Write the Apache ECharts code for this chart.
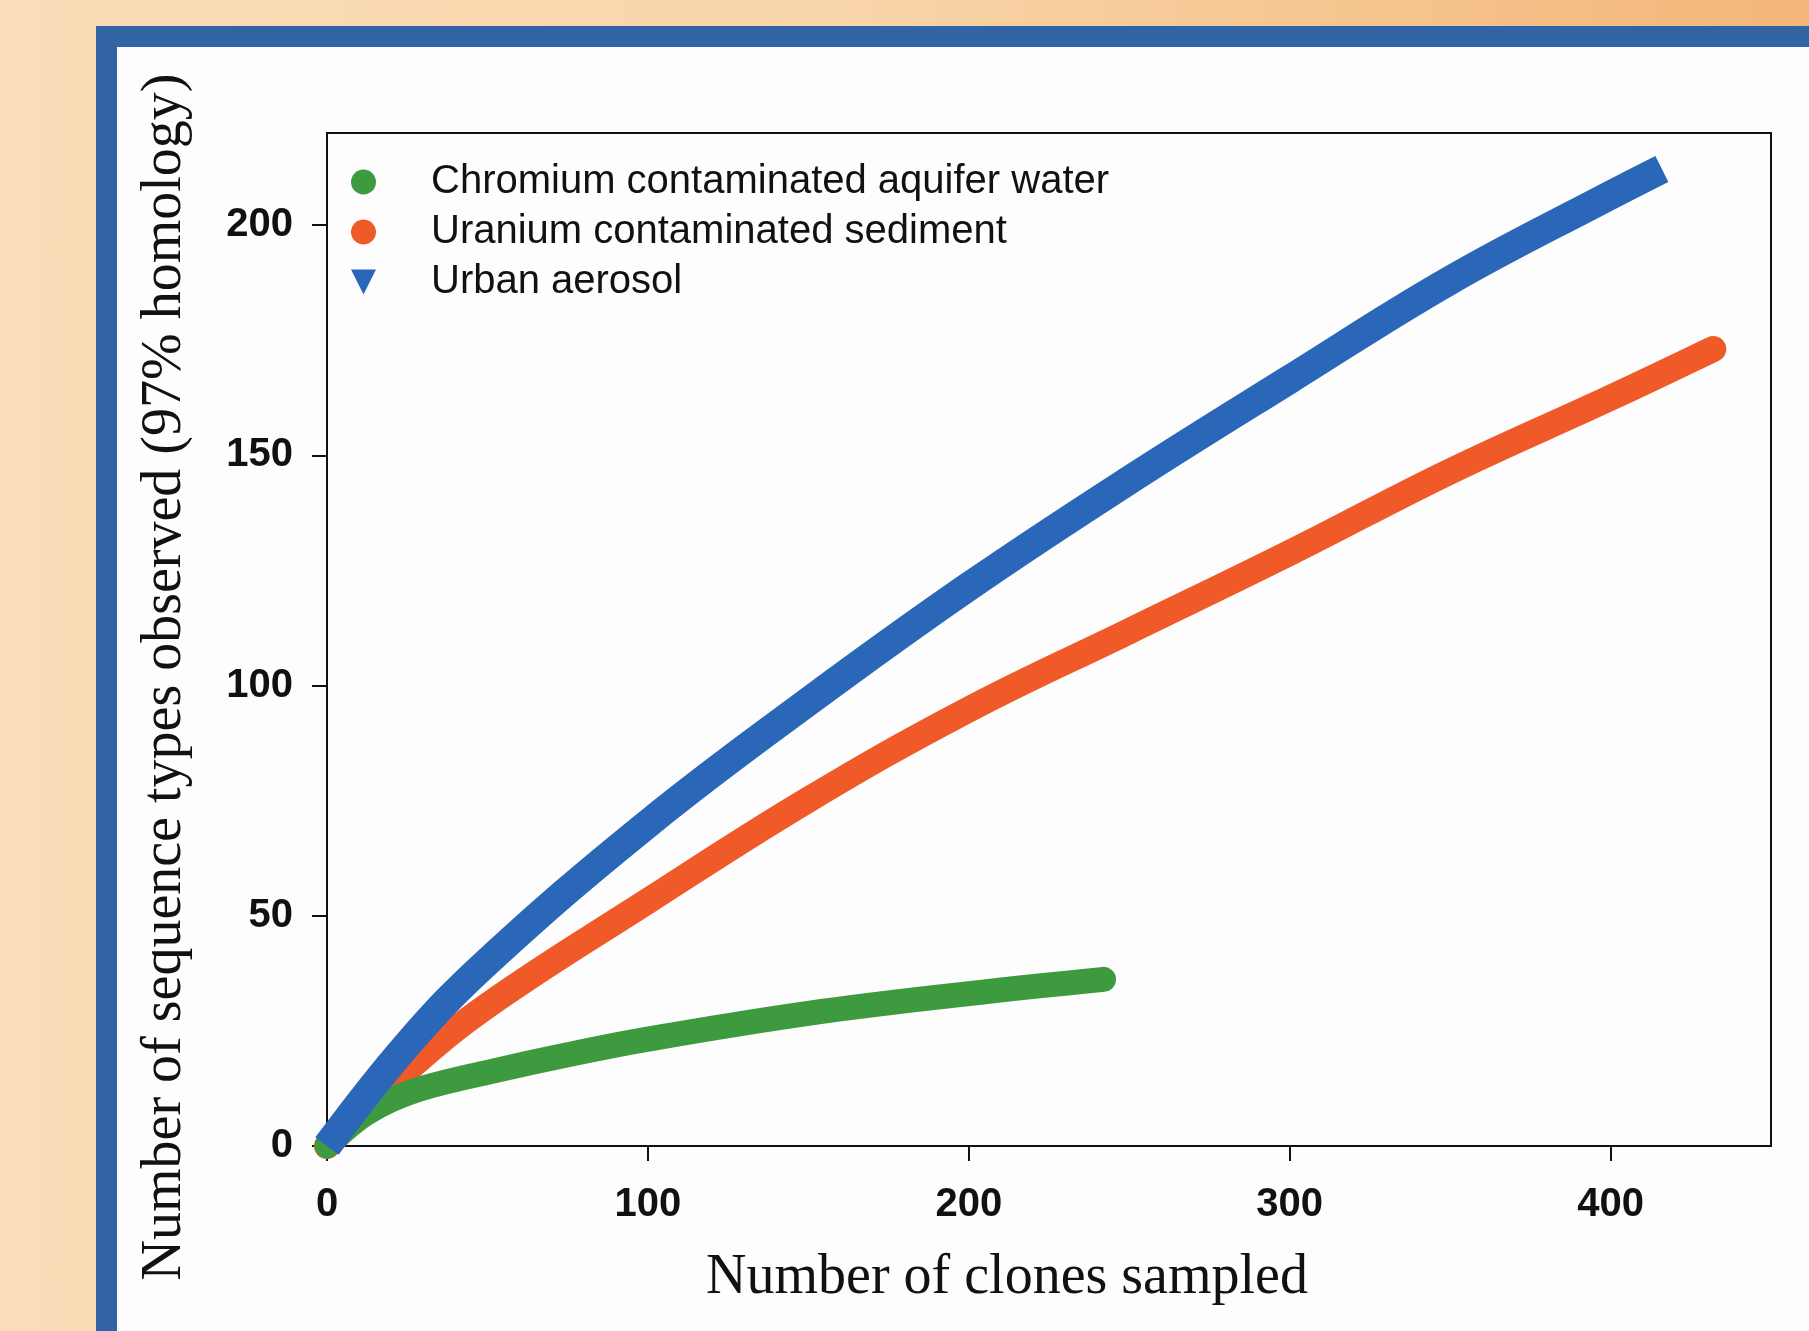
<!DOCTYPE html>
<html>
<head>
<meta charset="utf-8">
<script src="https://cdn.jsdelivr.net/npm/echarts@6/dist/echarts.min.js"></script>
<style>
  html, body { margin: 0; padding: 0; width: 1809px; height: 1331px; overflow: hidden; }
  body { background: linear-gradient(90deg, #fadcb8 0%, #f9d6ab 45%, #f5c58f 75%, #f3b678 100%); position: relative; }
  #frame { position: absolute; left: 96px; top: 26px; width: 1800px; height: 1400px;
           border-left: 21px solid #3264a5; border-top: 21px solid #3264a5; background: #fdfdfd; }
  #chart { position: absolute; left: 0; top: 0; width: 1809px; height: 1331px; }
</style>
</head>
<body>
<div id="frame"></div>
<div id="chart"></div>
<script>
// ---- data ----
const seriesNames = ['Chromium contaminated aquifer water', 'Uranium contaminated sediment', 'Urban aerosol'];

const clonesGreen = [0, 6, 12, 20, 30, 50, 75, 100, 150, 200, 242];
const typesGreen  = [0, 3.8, 7, 10, 12.6, 16, 19.8, 23.2, 28.8, 33.1, 36.2];

const clonesOrange = [0, 25, 50, 100, 150, 200, 250, 300, 350, 400, 432];
const typesOrange  = [0, 16.5, 30.5, 53.2, 75.2, 94.8, 111.8, 128.8, 146.5, 162.5, 173.1];

const clonesBlue = [0, 25, 50, 100, 150, 200, 250, 300, 350, 400, 416];
const typesBlue  = [0, 22, 40, 70, 96.5, 121.5, 144.6, 166.5, 188, 206.5, 212.2];

const xTicks = [0, 100, 200, 300, 400];
const yTicks = [0, 50, 100, 150, 200];

const xTitle = 'Number of clones sampled';
const yTitle = 'Number of sequence types observed (97% homology)';

const zip = (xs, ys) => xs.map((x, i) => [x, ys[i]]);

const chart = echarts.init(document.getElementById('chart'), null, { renderer: 'canvas' });

const axisCommon = {
  type: 'value',
  axisLine: { show: true, onZero: false, lineStyle: { color: '#111', width: 2 } },
  axisTick: { show: true, inside: false, length: 15, lineStyle: { color: '#111', width: 2 } },
  splitLine: { show: false },
  axisLabel: { fontFamily: 'Liberation Sans', fontWeight: 'bold', fontSize: 40, color: '#111' }
};

chart.setOption({
  backgroundColor: 'transparent',
  animation: false,
  grid: { left: 327, top: 133, right: 38, bottom: 185, show: true, borderColor: '#111', borderWidth: 2, backgroundColor: 'transparent' },
  xAxis: Object.assign({}, axisCommon, {
    min: 0, max: 450,
    axisTick: Object.assign({}, axisCommon.axisTick, { customValues: xTicks }),
    axisLabel: Object.assign({}, axisCommon.axisLabel, { customValues: xTicks, margin: 39 })
  }),
  yAxis: Object.assign({}, axisCommon, {
    min: 0, max: 220,
    axisTick: Object.assign({}, axisCommon.axisTick, { customValues: yTicks }),
    axisLabel: Object.assign({}, axisCommon.axisLabel, { customValues: yTicks, margin: 34 })
  }),
  legend: {
    orient: 'vertical',
    left: 346, top: 157,
    itemWidth: 25, itemHeight: 25, itemGap: 10,
    textStyle: { fontFamily: 'Liberation Sans', fontSize: 40, color: '#111', lineHeight: 40, padding: [0, 0, 0, 50] },
    data: [
      { name: seriesNames[0], icon: 'circle', itemStyle: { color: '#3e9a3e' } },
      { name: seriesNames[1], icon: 'circle', itemStyle: { color: '#f05a28' } },
      { name: seriesNames[2], icon: 'path://M0,0 L10,0 L5,10 Z', itemStyle: { color: '#2a67b8' } }
    ]
  },
  graphic: [
    { type: 'text', x: 1007, y: 1278, silent: true, z: 10,
      style: { text: xTitle, fontFamily: 'Liberation Serif', fontSize: 56, fill: '#111', align: 'center', verticalAlign: 'middle' } },
    { type: 'text', x: 165, y: 677, rotation: Math.PI / 2, silent: true, z: 10,
      style: { text: yTitle, fontFamily: 'Liberation Serif', fontSize: 56, fill: '#111', align: 'center', verticalAlign: 'middle' } }
  ],
  series: [
    { name: seriesNames[1], type: 'line', data: zip(clonesOrange, typesOrange), smooth: 0.4, showSymbol: false, clip: false,
      itemStyle: { color: '#f05a28' }, lineStyle: { color: '#f05a28', width: 26, cap: 'round', join: 'round' }, z: 2 },
    { name: seriesNames[0], type: 'line', data: zip(clonesGreen, typesGreen), smooth: 0.4, showSymbol: false, clip: false,
      itemStyle: { color: '#3e9a3e' }, lineStyle: { color: '#3e9a3e', width: 25, cap: 'round', join: 'round' }, z: 3 },
    { name: seriesNames[2], type: 'line', data: zip(clonesBlue, typesBlue), smooth: 0.4, showSymbol: false, clip: false,
      itemStyle: { color: '#2a67b8' }, lineStyle: { color: '#2a67b8', width: 29, cap: 'butt', join: 'round' }, z: 4 }
  ]
});
</script>
</body>
</html>
